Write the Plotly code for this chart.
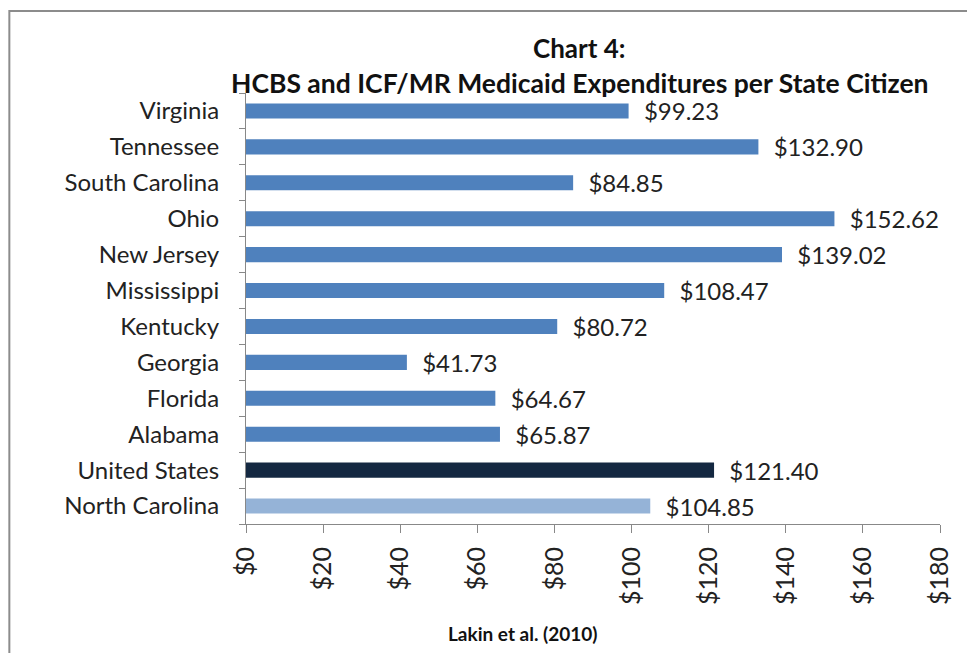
import plotly.graph_objects as go

states = ["North Carolina", "United States", "Alabama", "Florida", "Georgia", "Kentucky",
          "Mississippi", "New Jersey", "Ohio", "South Carolina", "Tennessee", "Virginia"]
values = [104.85, 121.40, 65.87, 64.67, 41.73, 80.72, 108.47, 139.02, 152.62, 84.85, 132.90, 99.23]
colors = ["#95B3D7", "#142841"] + ["#4F81BD"] * 10
tick_vals = [0, 20, 40, 60, 80, 100, 120, 140, 160, 180]
tick_text = ["$" + str(v) for v in tick_vals]

FONT = "Lato"
fig = go.Figure(go.Bar(
    x=values, y=states, orientation="h",
    marker=dict(color=colors, line=dict(width=0)),
    width=0.42,
    text=["\u00a0\u00a0$%.2f" % v for v in values], textposition="outside",
    constraintext="none",
    textfont=dict(family=FONT, size=24, color="#222222"),
    cliponaxis=False,
))

fig.update_layout(
    width=975, height=653,
    margin=dict(l=238, r=43, t=85, b=137),
    paper_bgcolor="white", plot_bgcolor="white",
    showlegend=False,
    font=dict(family=FONT, size=20, color="#222222"),
    xaxis=dict(range=[0, 180], tickvals=tick_vals, ticktext=tick_text, tickangle=-90,
               showgrid=False, zeroline=False, showline=True, linecolor="#888888", linewidth=1,
               ticks="outside", ticklen=8, tickcolor="#888888", automargin=False,
               ticklabelstandoff=4,
               tickfont=dict(family=FONT, size=25, color="#222222")),
    yaxis=dict(categoryorder="array", categoryarray=states, showgrid=False, zeroline=False,
               showline=True, linecolor="#888888", linewidth=1,
               ticks="outside", ticklen=6, tickcolor="#888888", tickson="boundaries",
               ticklabelstandoff=21, automargin=False,
               tickfont=dict(family=FONT, size=24, color="#222222")),
)

fig.add_shape(type="rect", xref="paper", yref="paper", x0=-0.341, x1=1.043, y0=-0.4, y1=1.19,
              line=dict(color="#8c8c8c", width=2), fillcolor="rgba(0,0,0,0)", layer="below")

fig.add_annotation(text="<b>Chart 4:</b>", xref="paper", yref="paper", x=0.481, y=1.105,
                   xanchor="center", yanchor="middle",
                   showarrow=False, font=dict(family=FONT, size=26, color="#111111"))
fig.add_annotation(text="<b>HCBS and ICF/MR Medicaid Expenditures per State Citizen</b>",
                   xref="paper", yref="paper", x=0.4813, y=1.024,
                   xanchor="center", yanchor="middle",
                   showarrow=False, font=dict(family=FONT, size=26.5, color="#111111"))
fig.add_annotation(text="<b>Lakin et al. (2010)</b>", xref="paper", yref="paper", x=0.399, y=-0.253,
                   xanchor="center", yanchor="middle",
                   showarrow=False, font=dict(family=FONT, size=19, color="#111111"))

fig.write_html("out.html")
